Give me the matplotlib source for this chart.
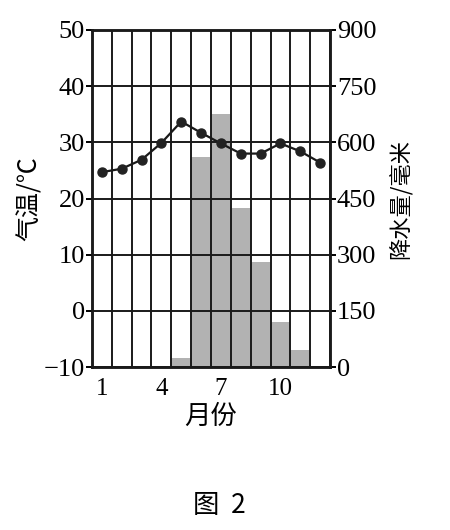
import matplotlib
matplotlib.use("Agg")
import matplotlib.pyplot as plt
import numpy as np

months = [1, 2, 3, 4, 5, 6, 7, 8, 9, 10, 11, 12]
temperature = [24.7, 25.3, 26.9, 29.9, 33.7, 31.7, 29.8, 28.0, 28.0, 29.8, 28.4, 26.4]
precipitation = [0, 0, 0, 0, 25, 560, 675, 425, 280, 120, 45, 0]
temp_ticks = [-10, 0, 10, 20, 30, 40, 50]
precip_ticks = [0, 150, 300, 450, 600, 750, 900]
month_ticks = [1, 4, 7, 10]

serif = ['Liberation Serif', 'DejaVu Serif']
cjk = ['Noto Sans CJK SC', 'DejaVu Sans']

fig = plt.figure(figsize=(4.5, 5.3), dpi=100)
ax = fig.add_axes([0.2044, 0.3075, 0.5290, 0.6359])
ax2 = ax.twinx()

# precipitation bars on the secondary axis, behind the grid
ax2.bar(months, precipitation, width=1.0, color='#b2b2b2', edgecolor='none', zorder=1)
ax2.set_ylim(0, 900)
ax2.set_yticks(precip_ticks)
ax2.set_yticklabels([str(v) for v in precip_ticks], fontfamily=serif, fontsize=19)
ax2.tick_params(axis='y', length=4, width=1.4, pad=1, direction='out')
ax2.set_ylabel('降水量/毫米', fontfamily=cjk, fontsize=16, labelpad=9)

# grid lines drawn on top of bars
for x in np.arange(0.5, 13, 1.0):
    ax2.axvline(x, color='#1a1a1a', lw=1.4, zorder=3)
for y in precip_ticks:
    ax2.axhline(y, color='#1a1a1a', lw=1.4, zorder=3)

ax.set_zorder(ax2.get_zorder() + 1)
ax.patch.set_visible(False)

ax.plot(months, temperature, color='#1a1a1a', lw=1.6, marker='o', ms=6.5,
        markerfacecolor='#222222', markeredgecolor='#222222', zorder=5)
ax.set_xlim(0.5, 12.5)
ax.set_ylim(-10, 50)
ax.set_yticks(temp_ticks)
ax.set_yticklabels([str(v) if v >= 0 else '\u221210' for v in temp_ticks], fontfamily=serif, fontsize=19)
ax.set_xticks(month_ticks)
ax.set_xticklabels([str(m) for m in month_ticks], fontfamily=serif, fontsize=18)
ax.tick_params(axis='y', length=4, width=1.4, pad=1, direction='out')
ax.tick_params(axis='x', length=0, pad=8)
ax.set_ylabel('气温/℃', fontfamily=cjk, fontsize=18, labelpad=1)
ax.set_xlabel('月份', fontfamily=cjk, fontsize=19, labelpad=2)

for a in (ax, ax2):
    for s in a.spines.values():
        s.set_linewidth(1.8)
        s.set_color('#1a1a1a')

fig.text(0.487, 0.047, '图  2', ha='center', va='center', fontfamily=cjk, fontsize=19)

fig.savefig('out.png', dpi=100, facecolor='white')
